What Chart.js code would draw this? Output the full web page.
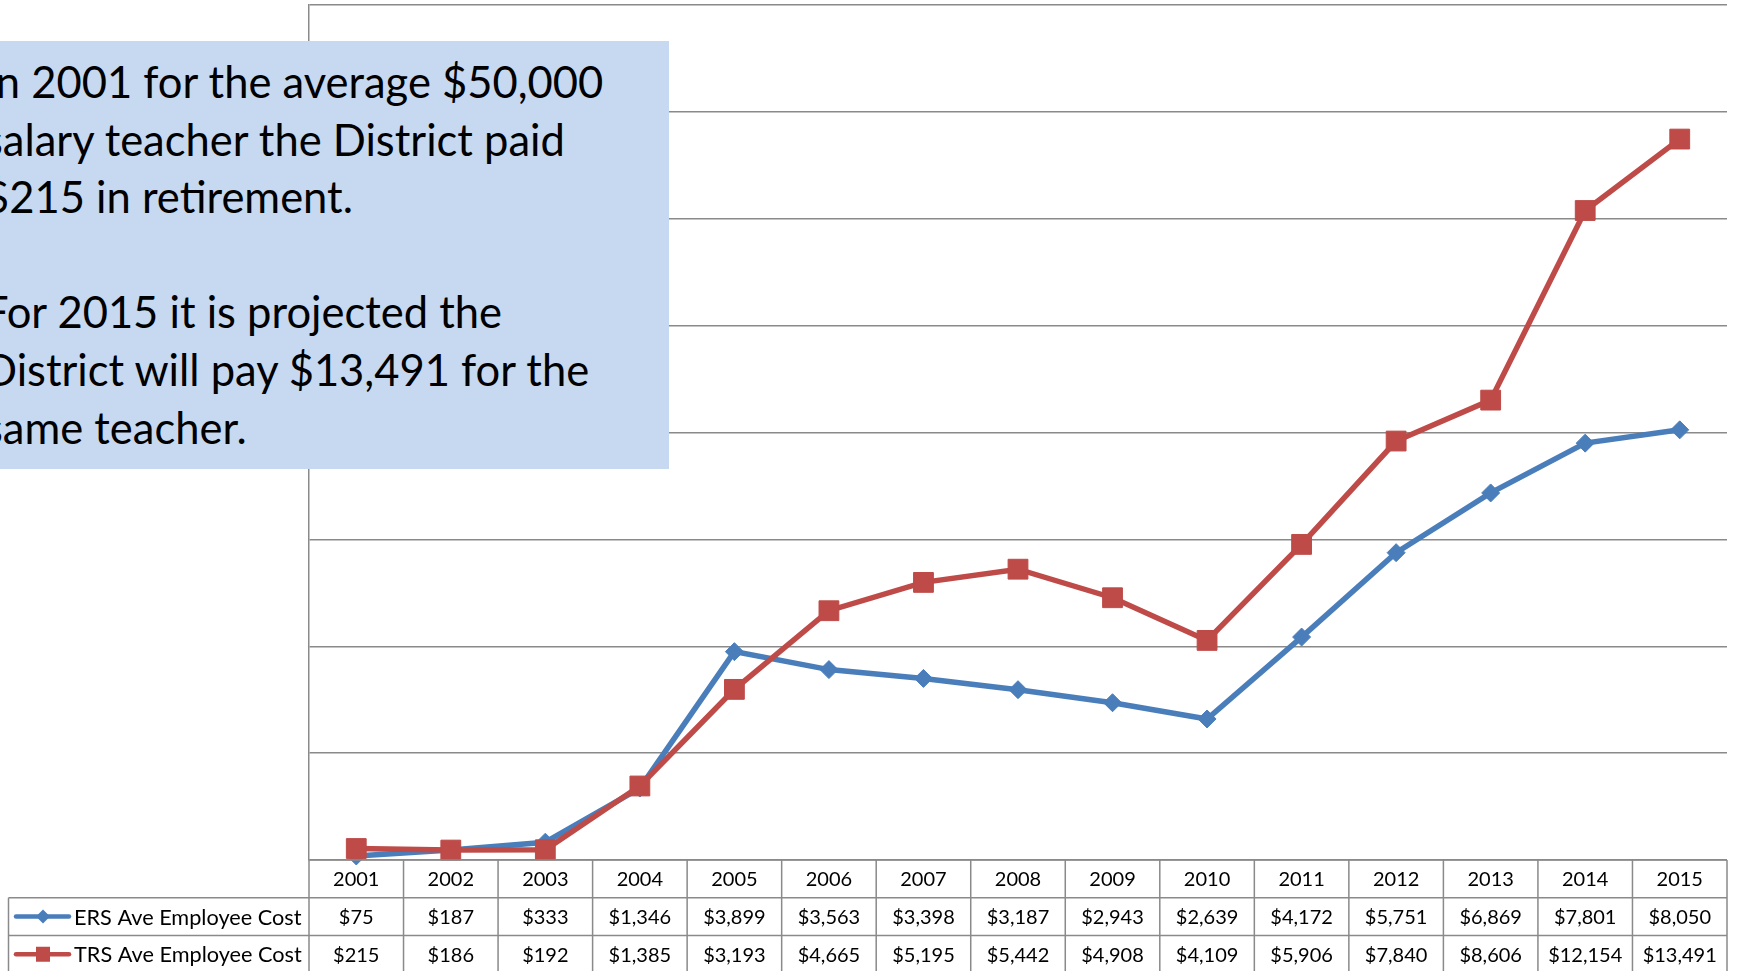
<!DOCTYPE html>
<html>
<head>
<meta charset="utf-8">
<script src="https://cdn.jsdelivr.net/npm/chart.js@4.4.1/dist/chart.umd.min.js"></script>
<style>
  body{ margin:0; background:#fff; }
  #wrap{ position:relative; width:1737px; height:971px; overflow:hidden; }
  #c{ position:absolute; left:0; top:0; }
  #note{ position:absolute; left:0; top:41px; width:669px; height:428px; background:#c6d9f1;
         font-family:Lato, "Open Sans", sans-serif; font-size:43.5px; line-height:57.6px; color:#000;
         padding-top:12px; box-sizing:border-box; }
  #note div{ white-space:nowrap; margin-left:-16px; height:57.6px; }
</style>
</head>
<body>
<div id="wrap">
  <canvas id="c" width="1737" height="971"></canvas>
  <div id="note">
    <div>In 2001 for the average $50,000</div>
    <div>salary teacher the District paid</div>
    <div>$215 in retirement.</div>
    <div></div>
    <div>For 2015 it is projected the</div>
    <div>District will pay $13,491 for the</div>
    <div>same teacher.</div>
  </div>
</div>
<script>
// data
const years = ['2001','2002','2003','2004','2005','2006','2007','2008','2009','2010','2011','2012','2013','2014','2015'];
const ersCost = [75, 187, 333, 1346, 3899, 3563, 3398, 3187, 2943, 2639, 4172, 5751, 6869, 7801, 8050];
const trsCost = [215, 186, 192, 1385, 3193, 4665, 5195, 5442, 4908, 4109, 5906, 7840, 8606, 12154, 13491];
const seriesNames = ['ERS Ave Employee Cost', 'TRS Ave Employee Cost'];

// styles
const BLUE = '#4a7ebb', RED = '#be4b48';
const GRID = '#8a8a8a';
const FONT = 'Lato, "Open Sans", sans-serif';

function money(v){ return '$' + v.toLocaleString('en-US'); }

// draws the data table + legend keys under the plot, using the x scale for columns
const tablePlugin = {
  id: 'dataTable',
  afterDraw(chart){
    const ctx = chart.ctx, a = chart.chartArea, x = chart.scales.x;
    const step = x.getPixelForValue(1) - x.getPixelForValue(0);
    const rowH = 37.7;
    const top = a.bottom;
    const legL = 8.5;
    const rows = [ersCost, trsCost];
    ctx.save();
    ctx.strokeStyle = GRID; ctx.lineWidth = 1.5;
    ctx.beginPath();
    // horizontals
    ctx.moveTo(a.left, top); ctx.lineTo(a.right, top);
    ctx.moveTo(legL, top + rowH); ctx.lineTo(a.right, top + rowH);
    ctx.moveTo(legL, top + rowH*2); ctx.lineTo(a.right, top + rowH*2);
    // verticals
    for(let i=0;i<=years.length;i++){
      const px = x.getPixelForValue(0) - step/2 + i*step;
      ctx.moveTo(px, top); ctx.lineTo(px, top + rowH*3);
    }
    ctx.moveTo(legL, top + rowH); ctx.lineTo(legL, top + rowH*3);
    ctx.stroke();

    // text
    ctx.fillStyle = '#000';
    ctx.font = '20px ' + FONT;
    ctx.textAlign = 'center'; ctx.textBaseline = 'middle';
    years.forEach((y,i)=>{
      const cx = x.getPixelForValue(i);
      ctx.fillText(y, cx, top + rowH/2 + 1);
      rows.forEach((r,j)=> ctx.fillText(money(r[i]), cx, top + rowH*(j+1) + rowH/2 + 1));
    });

    // legend keys
    ctx.font = '21.7px ' + FONT;
    ctx.textAlign = 'left';
    [BLUE, RED].forEach((col,j)=>{
      const cy = top + rowH*(j+1) + rowH/2;
      ctx.strokeStyle = col; ctx.fillStyle = col; ctx.lineWidth = 4.5; ctx.lineCap = 'round';
      ctx.beginPath(); ctx.moveTo(16, cy); ctx.lineTo(69, cy); ctx.stroke();
      if(j===0){
        ctx.beginPath(); ctx.moveTo(43, cy-7); ctx.lineTo(50, cy); ctx.lineTo(43, cy+7); ctx.lineTo(36, cy); ctx.closePath(); ctx.fill();
      } else {
        ctx.fillRect(36, cy-7.5, 14, 15);
      }
      ctx.fillStyle = '#000';
      ctx.fillText(seriesNames[j], 74, cy + 1);
    });
    ctx.restore();
  }
};

const chart = new Chart(document.getElementById('c'), {
  type: 'line',
  data: {
    labels: years,
    datasets: [
      { label: seriesNames[0], data: ersCost, borderColor: BLUE, backgroundColor: BLUE,
        borderWidth: 5.5, pointStyle: 'rectRot', pointRadius: 9, pointBorderWidth: 1,
        tension: 0, clip: false, order: 2 },
      { label: seriesNames[1], data: trsCost, borderColor: RED, backgroundColor: RED,
        borderWidth: 5.5, pointStyle: 'rect', pointRadius: 14, pointBorderWidth: 1,
        tension: 0, clip: false, order: 1 }
    ]
  },
  options: {
    responsive: false,
    animation: false,
    layout: { autoPadding: false, padding: { left: 309, top: 5, right: 10, bottom: 111 } },
    plugins: { legend: { display: false }, tooltip: { enabled: false } },
    scales: {
      x: { display: false, offset: true },
      y: {
        min: 0, max: 16000,
        ticks: { display: false, stepSize: 2000 },
        grid: { color: GRID, lineWidth: 1.5, drawTicks: false },
        border: { display: true, color: GRID, width: 1.5 }
      }
    }
  },
  plugins: [tablePlugin]
});
</script>
</body>
</html>
